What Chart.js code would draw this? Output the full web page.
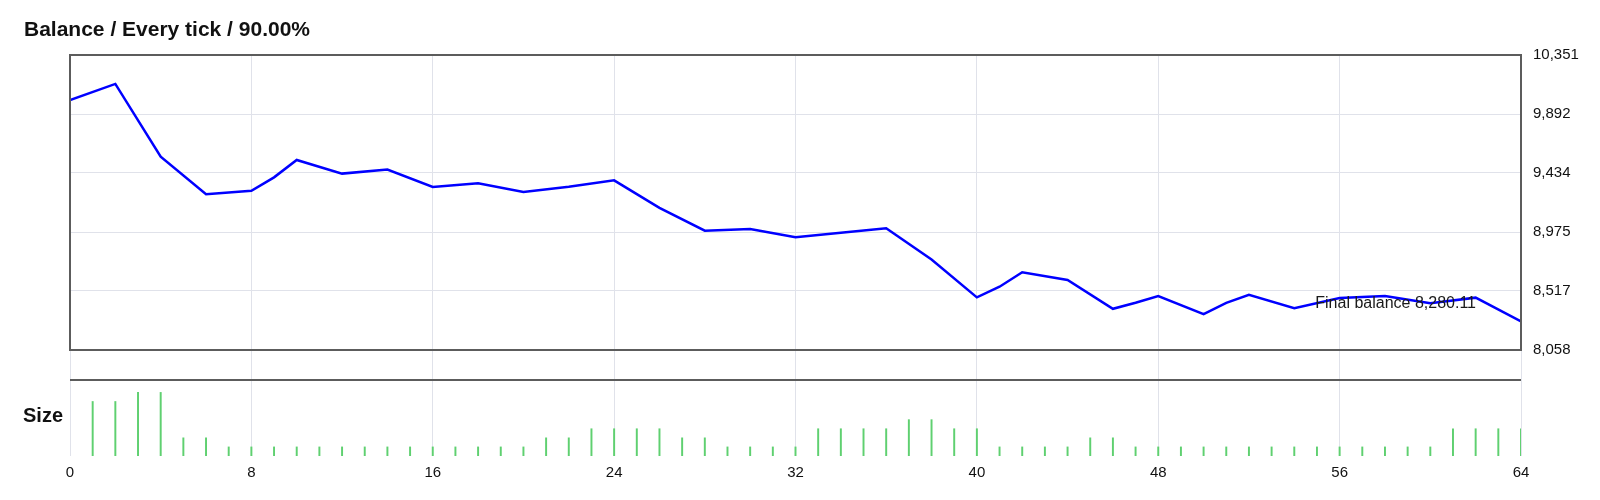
<!DOCTYPE html>
<html>
<head>
<meta charset="utf-8">
<script src="https://cdn.jsdelivr.net/npm/chart.js@4.4.1/dist/chart.umd.min.js"></script>
<style>
  html, body { margin: 0; padding: 0; background: #fff; }
  #wrap { width: 1600px; height: 500px; position: relative; }
</style>
</head>
<body>
<div id="wrap"><canvas id="balanceChart"></canvas></div>
<script>
// texts
const chartTitle = 'Balance / Every tick / 90.00%';
const sizeLabel = 'Size';
const finalLabel = 'Final balance 8,280.11';

// balance curve (trade number -> balance)
const balanceX = [0, 2, 4, 6, 8, 9, 10, 12, 14, 16, 18, 20, 22, 24, 26, 28, 30, 32, 34, 36,
                  38, 40, 41, 42, 44, 46, 47, 48, 50, 51, 52, 54, 56, 58, 60, 62, 64];
const balanceY = [10000, 10126, 9561, 9268, 9296, 9400, 9535, 9429, 9460, 9325, 9354, 9286, 9327, 9377, 9163, 8985, 8999, 8934, 8970, 9004,
                  8762, 8467, 8550, 8662, 8602, 8378, 8425, 8477, 8337, 8425, 8487, 8383, 8462, 8478, 8421, 8465, 8280.11];

// position size per trade
const sizeX = [1, 2, 3, 4, 5, 6, 7, 8, 9, 10, 11, 12, 13, 14, 15, 16, 17, 18, 19, 20, 21, 22, 23, 24, 25, 26, 27, 28, 29, 30, 31, 32,
               33, 34, 35, 36, 37, 38, 39, 40, 41, 42, 43, 44, 45, 46, 47, 48, 49, 50, 51, 52, 53, 54, 55, 56, 57, 58, 59, 60, 61, 62, 63, 64];
const sizeValues = [6, 6, 7, 7, 2, 2, 1, 1, 1, 1, 1, 1, 1, 1, 1, 1, 1, 1, 1, 1, 2, 2, 3, 3, 3, 3, 2, 2, 1, 1, 1, 1,
                    3, 3, 3, 3, 4, 4, 3, 3, 1, 1, 1, 1, 2, 2, 1, 1, 1, 1, 1, 1, 1, 1, 1, 1, 1, 1, 1, 1, 3, 3, 3, 3];

// tick labels
const balanceTicks = [8058, 8517, 8975, 9434, 9892, 10351];
const tradeTicks = [0, 8, 16, 24, 32, 40, 48, 56, 64];

const fontFamily = '"Liberation Sans", Arial, sans-serif';
Chart.defaults.font.family = fontFamily;
Chart.defaults.color = '#111';

const decorations = {
    id: 'decorations',
    afterDraw(chart) {
        const ctx = chart.ctx;
        const area = chart.chartArea;
        const yb = chart.scales.y;
        ctx.save();
        // frame round the balance panel and top line of the size panel
        ctx.strokeStyle = '#5c5c5c';
        ctx.lineWidth = 2;
        ctx.strokeRect(area.left, yb.top, area.right - area.left, yb.bottom - yb.top);
        ctx.beginPath();
        ctx.moveTo(area.left, yb.bottom + 30);
        ctx.lineTo(area.right, yb.bottom + 30);
        ctx.stroke();
        // titles
        ctx.fillStyle = '#111';
        ctx.textAlign = 'left';
        ctx.textBaseline = 'middle';
        ctx.font = 'bold 21px ' + fontFamily;
        ctx.fillText(chartTitle, 24, 30);
        ctx.font = 'bold 20px ' + fontFamily;
        ctx.fillText(sizeLabel, 23, 416);
        // final balance note
        ctx.font = '16px ' + fontFamily;
        ctx.fillStyle = '#1a1a1a';
        ctx.textAlign = 'right';
        ctx.fillText(finalLabel, area.right - 45, yb.getPixelForValue(balanceY[balanceY.length - 1]) - 18);
        ctx.restore();
    }
};

const ctx = document.getElementById('balanceChart').getContext('2d');
new Chart(ctx, {
    type: 'line',
    data: {
        datasets: [{
            label: 'Balance',
            data: balanceX.map((x, i) => ({ x: x, y: balanceY[i] })),
            borderColor: '#0000ff',
            borderWidth: 2.5,
            pointRadius: 0,
            tension: 0,
            yAxisID: 'y'
        }, {
            type: 'bar',
            label: 'Size',
            data: sizeX.map((x, i) => ({ x: x, y: sizeValues[i] })),
            backgroundColor: '#5fd070',
            barThickness: 1.3,
            yAxisID: 'y2'
        }]
    },
    options: {
        responsive: true,
        maintainAspectRatio: false,
        animation: false,
        layout: { padding: { top: 55, left: 70, right: 0, bottom: 0 } },
        plugins: {
            legend: { display: false },
            tooltip: { enabled: false }
        },
        scales: {
            x: {
                type: 'linear',
                min: 0,
                max: 64,
                offset: false,
                afterBuildTicks: scale => { scale.ticks = tradeTicks.map(v => ({ value: v })); },
                afterFit: scale => { scale.height = 44; },
                grid: { color: '#e0e2ea', drawTicks: false, offset: false },
                border: { display: false },
                ticks: { padding: 8, maxRotation: 0, font: { size: 15 }, color: '#111' }
            },
            y: {
                type: 'linear',
                position: 'right',
                stack: 'panels',
                stackWeight: 295,
                weight: 1,
                min: balanceTicks[0],
                max: balanceTicks[balanceTicks.length - 1],
                afterBuildTicks: scale => { scale.ticks = balanceTicks.map(v => ({ value: v })); },
                afterFit: scale => { scale.width = 79; },
                grid: { color: '#e0e2ea', drawTicks: false },
                border: { display: false },
                ticks: {
                    padding: 12,
                    font: { size: 15 },
                    color: '#111',
                    callback: v => Math.round(v).toLocaleString('en-US')
                }
            },
            y2: {
                type: 'linear',
                position: 'right',
                stack: 'panels',
                stackWeight: 106,
                weight: 2,
                min: 0,
                max: Math.max(...sizeValues) / 0.6,
                grid: { display: false },
                border: { display: false },
                ticks: { display: false }
            }
        }
    },
    plugins: [decorations]
});
</script>
</body>
</html>
